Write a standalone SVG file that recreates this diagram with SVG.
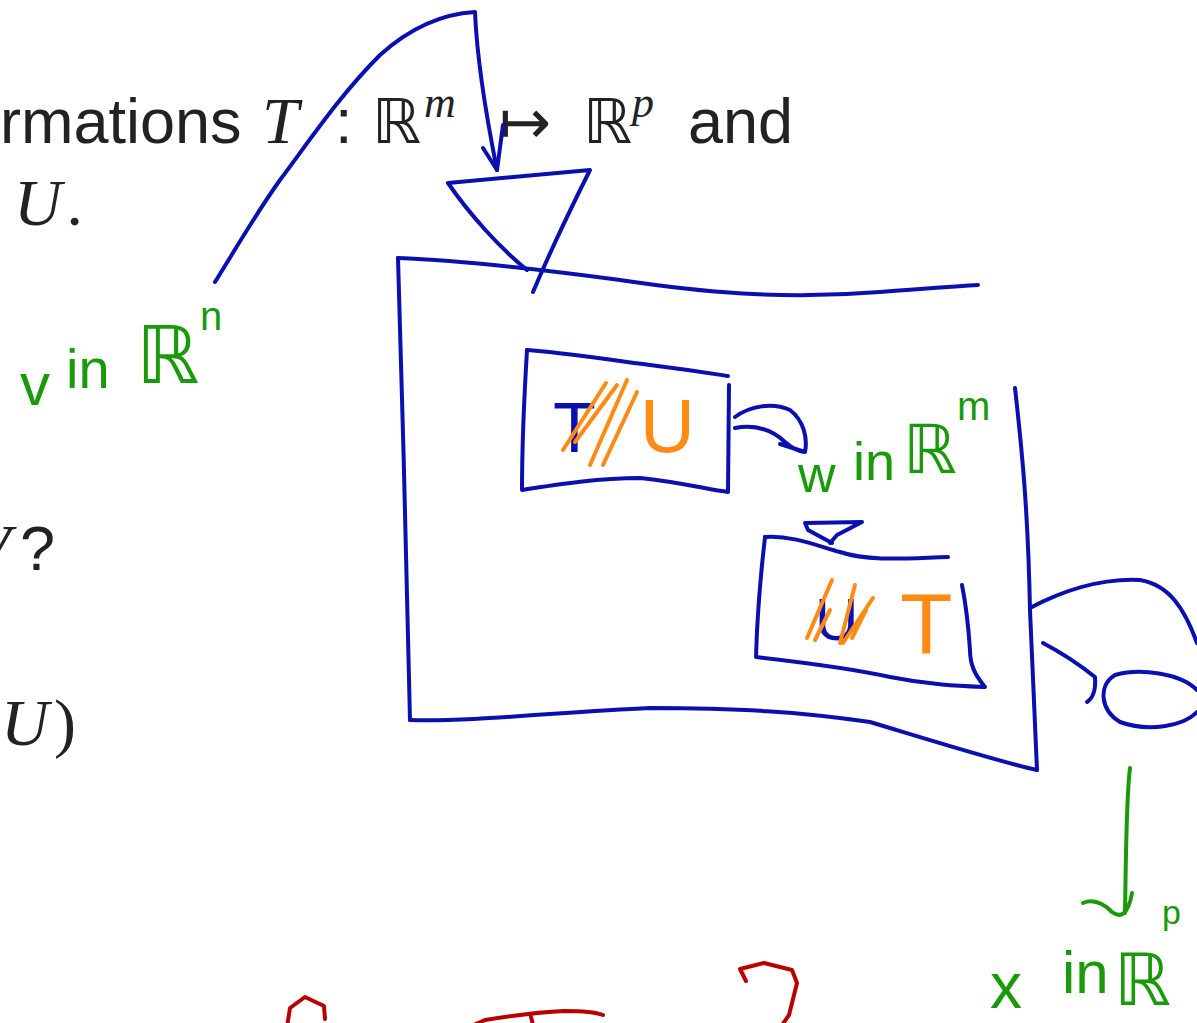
<svg xmlns="http://www.w3.org/2000/svg" width="1197" height="1023" viewBox="0 0 1197 1023">
<style>
.sl{font-family:"Liberation Sans","DejaVu Sans",sans-serif;fill:#222;font-size:63px}
.mi{font-family:"Liberation Serif","DejaVu Serif",serif;font-style:italic;fill:#222;font-size:66px}
.sup{font-family:"Liberation Serif","DejaVu Serif",serif;font-style:italic;fill:#222;font-size:44px}
.bb{font-family:"DejaVu Sans",sans-serif;fill:#222;font-size:62px}
.b{fill:none;stroke:#0a0fb0;stroke-width:4;stroke-linecap:round;stroke-linejoin:round}
.o{fill:none;stroke:#ff8a14;stroke-width:4;stroke-linecap:round;stroke-linejoin:round}
.r{fill:none;stroke:#b80000;stroke-width:4;stroke-linecap:round;stroke-linejoin:round}
.gs{fill:none;stroke:#1a9a0a;stroke-width:4;stroke-linecap:round;stroke-linejoin:round}
.g{font-family:"Liberation Sans","DejaVu Sans",sans-serif;fill:#1a9a0a}
.gR{font-family:"DejaVu Sans",sans-serif;fill:#1a9a0a}
.ot{font-family:"Liberation Sans","DejaVu Sans",sans-serif;fill:#ff8a14}
.bt{font-family:"Liberation Sans","DejaVu Sans",sans-serif;fill:#0a0fb0}
</style>
<rect width="1197" height="1023" fill="#fff"/>
<g id="slide-text">
<text class="sl" x="0" y="143">rmations</text>
<text class="mi" x="262" y="143">T</text>
<text class="sl" x="335" y="143">:</text>
<text class="bb" x="372" y="143">ℝ</text>
<text class="sup" x="424" y="117">m</text>
<text class="bb" x="499" y="143">↦</text>
<text class="bb" x="583" y="143">ℝ</text>
<text class="sup" x="632" y="117">p</text>
<text class="sl" x="688" y="143">and</text>
<text class="mi" x="14" y="225">U</text>
<text class="mi" x="68" y="225">.</text>
<text class="mi" x="-30" y="570">V</text>
<text class="sl" x="20" y="570">?</text>
<text class="mi" x="1" y="745">U</text>
<text class="mi" x="54" y="745" style="font-style:normal">)</text>
</g>
<g id="connectors">
<path class="b" d="M215,282 C235,250 255,215 280,180 C310,140 340,95 380,55 C410,28 440,14 475,12 C477,60 487,120 497,170"/>
<path class="b" d="M483,148 L497,170 L503,125"/>
<path class="b" d="M735,417 C750,406 772,402 790,410 C803,420 808,437 805,452 M735,428 C755,424 772,430 785,442 C792,448 798,452 805,452 M780,444 L805,452"/>
<path class="b" d="M1030,608 C1060,592 1100,578 1140,580 C1170,585 1185,610 1197,643"/>
<path class="b" d="M1043,643 C1060,652 1080,665 1095,677 C1096,690 1093,698 1087,702"/>
<path class="b" d="M1197,690 C1180,673 1140,668 1115,675 C1098,685 1100,710 1120,722 C1150,733 1185,725 1197,712"/>
<path class="gs" d="M1130,768 C1126,800 1126,860 1125,913 M1083,903 C1095,898 1105,905 1112,912 C1120,918 1128,916 1132,893"/>
</g>
<g id="funnel">
<path class="b" d="M448,183 L590,170 C575,200 555,240 533,292 M448,183 C470,215 500,248 527,270"/>
</g>
<g id="outer-box">
<path class="b" d="M398,258 C450,260 530,268 620,280 C700,292 780,300 880,292 C930,288 960,286 978,285"/>
<path class="b" d="M398,258 C402,400 408,600 410,720"/>
<path class="b" d="M410,720 C470,722 560,712 650,708 C740,708 800,712 870,722 C930,740 1000,762 1037,770"/>
<path class="b" d="M1015,388 C1022,450 1028,510 1030,610 C1033,680 1036,740 1037,770"/>
</g>
<g id="box-TU">
<path class="b" d="M527,350 C560,352 610,360 650,365 C690,370 715,374 728,376"/>
<path class="b" d="M527,350 C524,400 522,450 522,490 C560,484 600,478 640,478 C680,482 710,490 728,492 L729,385"/>
<text class="bt" x="553" y="452" font-size="70">T</text>
<path class="o" d="M563,450 L606,383 M575,442 L617,385 M590,465 L627,380 M603,465 L637,392"/>
<text class="ot" x="640" y="452" font-size="76">U</text>
</g>
<g id="label-w">
<text class="g" x="798" y="492" font-size="52">w</text>
<text class="g" x="853" y="480" font-size="54">in</text>
<text class="gR" x="903" y="473" font-size="68">ℝ</text>
<text class="g" x="957" y="420" font-size="40">m</text>
</g>
<g id="box-UT">
<path class="b" d="M805,523 L862,522 L837,535 L830,543 M805,523 L808,530 L832,543"/>
<path class="b" d="M765,537 C790,535 815,545 840,552 C870,562 910,558 948,557"/>
<path class="b" d="M765,537 C760,580 757,620 756,657 C800,662 850,668 890,677 C930,685 960,686 985,687 C975,675 970,665 970,650 C968,620 965,600 962,585"/>
<text class="bt" x="815" y="640" font-size="60">U</text>
<path class="o" d="M807,638 L832,580 M815,640 L830,610 M840,643 L855,585 M843,643 L873,598 M852,638 L866,610"/>
<text class="ot" x="900" y="653" font-size="86">T</text>
</g>
<g id="label-v">
<text class="g" x="20" y="405" font-size="60">v</text>
<text class="g" x="66" y="388" font-size="56">in</text>
<text class="gR" x="136" y="383" font-size="80">ℝ</text>
<text class="g" x="200" y="330" font-size="40">n</text>
</g>
<g id="label-x">
<text class="g" x="990" y="1008" font-size="64">x</text>
<text class="g" x="1062" y="993" font-size="60">in</text>
<text class="gR" x="1114" y="1005" font-size="72">ℝ</text>
<text class="g" x="1162" y="924" font-size="34">p</text>
</g>
<g id="red-marks">
<path class="r" d="M287,1027 L290,1008 L305,997 L324,1006 L325,1019"/>
<path class="r" d="M469,1027 L485,1020 C510,1016 540,1012 564,1011 C580,1011 595,1012 603,1015 M531,1017 L533,1025"/>
<path class="r" d="M746,981 L740,969 L764,963 L792,970 L797,983 L789,1015 L780,1028"/>
</g>
</svg>
